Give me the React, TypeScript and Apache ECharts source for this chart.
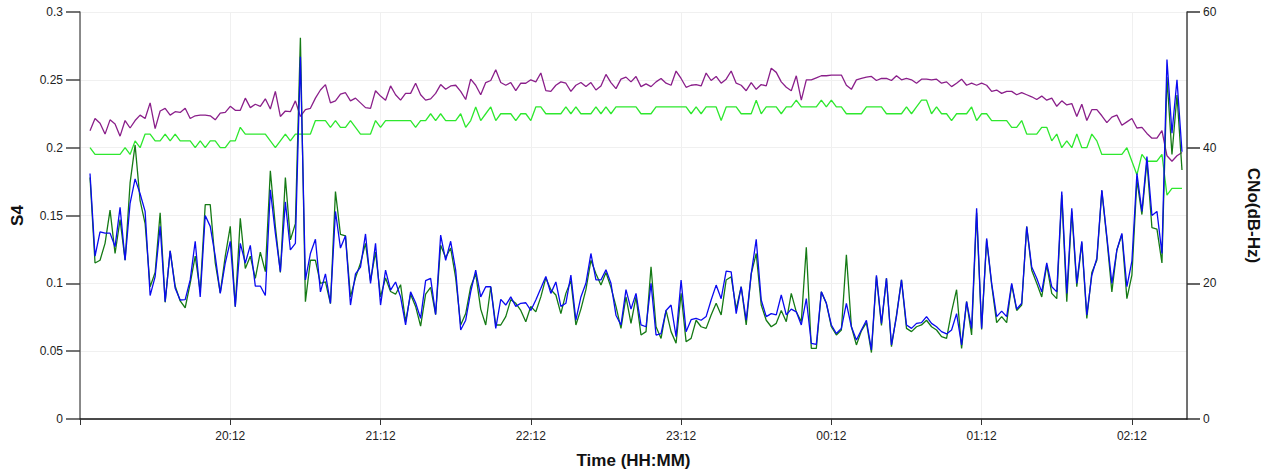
import React, { useEffect, useRef } from "react";
import * as echarts from "echarts";

// sampling: minutes after 19:12, one sample every 2 minutes starting 19:16
const startMinute = 4;
const stepMinutes = 2;
const xTickLabels = ["20:12", "21:12", "22:12", "23:12", "00:12", "01:12", "02:12"];
const s4TickLabels = ["0", "0.05", "0.1", "0.15", "0.2", "0.25", "0.3"];

// S4 (blue)
const s4Blue = [
  0.181, 0.120, 0.138, 0.137, 0.137, 0.127, 0.156, 0.117, 0.159, 0.177,
  0.166, 0.153, 0.091, 0.105, 0.142, 0.0865, 0.124, 0.0963, 0.0877, 0.088,
  0.1025, 0.131, 0.090, 0.150, 0.142, 0.120, 0.0926, 0.115, 0.131, 0.0828,
  0.1295, 0.115, 0.128, 0.098, 0.098, 0.091, 0.169, 0.137, 0.1086, 0.160,
  0.1246, 0.1295, 0.267, 0.1025, 0.122, 0.1325, 0.0937, 0.107, 0.0853, 0.153,
  0.126, 0.135, 0.084, 0.107, 0.112, 0.1364, 0.100, 0.1295, 0.084, 0.1097,
  0.095, 0.101, 0.090, 0.0693, 0.0937, 0.0857, 0.0742, 0.102, 0.1037, 0.077,
  0.1356, 0.117, 0.131, 0.1097, 0.0656, 0.0728, 0.0937, 0.1097, 0.090, 0.0975,
  0.0975, 0.0668, 0.0882, 0.084, 0.090, 0.083, 0.0853, 0.0857, 0.080, 0.0877,
  0.0963, 0.105, 0.0926, 0.101, 0.083, 0.0853, 0.106, 0.0728, 0.090, 0.100,
  0.122, 0.1025, 0.1025, 0.110, 0.100, 0.0765, 0.0693, 0.0953, 0.081, 0.0926,
  0.0693, 0.068, 0.100, 0.0619, 0.063, 0.080, 0.084, 0.0607, 0.1025, 0.0644,
  0.0732, 0.0742, 0.0728, 0.0755, 0.0877, 0.0987, 0.0887, 0.109, 0.1085, 0.0777,
  0.0975, 0.0728, 0.107, 0.1324, 0.0877, 0.0755, 0.0777, 0.0767, 0.0914, 0.0767,
  0.081, 0.079, 0.0693, 0.0887, 0.0558, 0.055, 0.0937, 0.0853, 0.0693, 0.063,
  0.0668, 0.0853, 0.068, 0.0582, 0.0656, 0.0728, 0.0509, 0.106, 0.0705, 0.1037,
  0.0546, 0.0755, 0.1025, 0.0693, 0.0668, 0.0705, 0.071, 0.0755, 0.0705, 0.068,
  0.0644, 0.0627, 0.0656, 0.0777, 0.0546, 0.0865, 0.0668, 0.1553, 0.0668, 0.1331,
  0.100, 0.0755, 0.0795, 0.0755, 0.100, 0.081, 0.0853, 0.1418, 0.112, 0.1037,
  0.0937, 0.115, 0.0975, 0.0937, 0.1676, 0.0926, 0.1553, 0.100, 0.131, 0.0767,
  0.106, 0.1185, 0.1688, 0.1344, 0.100, 0.1246, 0.1368, 0.0975, 0.1163, 0.181,
  0.153, 0.1934, 0.150, 0.153, 0.122, 0.265, 0.2106, 0.250, 0.197,
];

// S4 (green)
const s4Green = [
  0.178, 0.115, 0.117, 0.1295, 0.154, 0.122, 0.147, 0.117, 0.174, 0.202,
  0.161, 0.144, 0.0975, 0.108, 0.152, 0.086, 0.124, 0.098, 0.087, 0.082,
  0.100, 0.120, 0.094, 0.158, 0.158, 0.115, 0.093, 0.120, 0.142, 0.0828,
  0.148, 0.111, 0.120, 0.1037, 0.123, 0.1086, 0.183, 0.142, 0.108, 0.178,
  0.132, 0.144, 0.281, 0.0865, 0.117, 0.117, 0.100, 0.101, 0.085, 0.1676,
  0.136, 0.135, 0.090, 0.104, 0.115, 0.1295, 0.102, 0.123, 0.090, 0.104,
  0.094, 0.092, 0.099, 0.0717, 0.092, 0.083, 0.0685, 0.092, 0.097, 0.077,
  0.128, 0.119, 0.126, 0.104, 0.0693, 0.0777, 0.0975, 0.107, 0.081, 0.0693,
  0.0975, 0.0693, 0.0693, 0.0755, 0.088, 0.0853, 0.080, 0.0717, 0.083, 0.079,
  0.090, 0.104, 0.0953, 0.0914, 0.0777, 0.0926, 0.102, 0.0693, 0.081, 0.0953,
  0.117, 0.107, 0.0987, 0.108, 0.097, 0.083, 0.0668, 0.090, 0.0705, 0.090,
  0.0619, 0.0644, 0.1122, 0.068, 0.0594, 0.080, 0.0644, 0.0558, 0.0926, 0.057,
  0.0594, 0.0728, 0.068, 0.0668, 0.0767, 0.0853, 0.0767, 0.1025, 0.1049, 0.081,
  0.0975, 0.0693, 0.107, 0.122, 0.084, 0.0728, 0.068, 0.0705, 0.080, 0.0717,
  0.0926, 0.079, 0.0717, 0.1266, 0.052, 0.052, 0.0937, 0.0853, 0.068, 0.0619,
  0.0656, 0.121, 0.068, 0.0546, 0.065, 0.071, 0.049, 0.105, 0.069, 0.1037,
  0.0533, 0.0765, 0.1025, 0.0668, 0.0644, 0.068, 0.0693, 0.0728, 0.068, 0.0656,
  0.0607, 0.0594, 0.0792, 0.0953, 0.052, 0.0865, 0.0619, 0.152, 0.066, 0.132,
  0.099, 0.071, 0.0755, 0.071, 0.099, 0.080, 0.084, 0.1418, 0.1097, 0.100,
  0.090, 0.1135, 0.0926, 0.0887, 0.165, 0.0865, 0.153, 0.0975, 0.130, 0.0742,
  0.108, 0.117, 0.168, 0.133, 0.0937, 0.1246, 0.136, 0.0887, 0.106, 0.176,
  0.1507, 0.190, 0.141, 0.140, 0.115, 0.252, 0.195, 0.2388, 0.1835,
];

// C/N0 (purple), dB-Hz
const cn0Purple = [
  42.5, 44.3, 43.6, 42.0, 44.1, 43.5, 41.7, 44.0, 42.9, 44.0,
  44.8, 44.3, 46.6, 42.8, 45.4, 45.8, 44.8, 45.3, 45.2, 45.8,
  44.3, 44.7, 44.8, 44.8, 44.7, 44.1, 45.1, 45.2, 46.1, 45.5,
  45.5, 47.3, 45.9, 46.4, 46.1, 47.2, 45.7, 48.3, 44.6, 45.4,
  45.3, 46.9, 44.6, 45.6, 45.8, 47.3, 48.5, 49.3, 46.6, 46.9,
  47.9, 48.1, 46.9, 47.3, 46.6, 45.9, 45.8, 48.4, 47.6, 47.0,
  49.1, 47.8, 47.0, 48.0, 48.0, 49.5, 47.8, 47.0, 47.2, 48.0,
  49.3, 48.6, 49.1, 49.2, 48.3, 47.1, 50.1, 49.2, 47.8, 49.6,
  49.9, 51.5, 49.6, 49.2, 49.6, 48.4, 49.5, 49.5, 50.0, 49.7,
  51.0, 48.4, 48.3, 49.2, 49.7, 49.5, 48.3, 49.2, 49.6, 49.0,
  49.6, 48.5, 49.1, 50.8, 49.6, 48.7, 50.1, 50.4, 49.7, 50.5,
  49.0, 49.4, 49.0, 49.7, 50.2, 49.5, 49.2, 51.3, 50.2, 48.9,
  49.2, 49.3, 49.1, 51.0, 49.9, 50.5, 49.5, 50.1, 51.3, 49.5,
  49.2, 48.4, 49.6, 48.6, 49.3, 49.1, 51.7, 51.1, 49.7, 48.9,
  48.4, 50.6, 47.0, 50.0, 50.0, 50.3, 50.6, 50.6, 50.7, 50.7,
  50.7, 49.2, 48.6, 50.0, 50.2, 50.4, 50.5, 49.9, 50.2, 50.2,
  49.9, 50.6, 50.0, 50.2, 50.0, 49.5, 50.1, 50.1, 50.0, 50.1,
  49.5, 49.7, 49.0, 49.5, 50.1, 49.2, 49.5, 49.2, 49.5, 49.2,
  48.3, 48.5, 48.0, 48.3, 48.3, 47.8, 48.1, 47.8, 47.5, 47.1,
  47.6, 47.0, 47.3, 46.1, 46.9, 46.3, 46.5, 44.6, 46.4, 44.0,
  45.6, 45.6, 44.7, 43.7, 44.5, 44.8, 43.3, 43.8, 44.3, 42.9,
  43.0, 42.1, 41.4, 41.4, 42.5, 38.8, 38.0, 38.8, 39.3,
];

// C/N0 (bright green), dB-Hz
const cn0Green = [
  40, 39, 39, 39, 39, 39, 39, 40, 39, 41,
  40, 42, 42, 41, 41, 42, 41, 42, 41, 41,
  41, 40, 41, 40, 41, 41, 40, 40, 41, 41,
  43, 42, 42, 42, 42, 42, 41, 40, 41, 42,
  41, 42, 42, 42, 42, 44, 44, 44, 43, 44,
  43, 43, 44, 43, 42, 42, 42, 44, 43, 44,
  44, 44, 44, 44, 44, 43, 44, 44, 45, 44,
  45, 44, 44, 44, 45, 43, 44, 46, 44, 45,
  46, 44, 45, 45, 45, 44, 45, 45, 44, 46,
  46, 45, 45, 45, 45, 46, 45, 46, 45, 45,
  45, 46, 45, 46, 45, 46, 46, 46, 46, 46,
  45, 45, 45, 46, 46, 46, 46, 46, 46, 46,
  45, 46, 45, 46, 46, 46, 44, 46, 46, 46,
  45, 45, 45, 47, 45, 46, 46, 46, 45, 46,
  46, 47, 46, 46, 46, 46, 47, 46, 47, 46,
  46, 45, 45, 45, 45, 46, 46, 46, 46, 45,
  45, 45, 45, 46, 45, 46, 47, 47, 45, 46,
  45, 45, 44, 45, 45, 45, 46, 44, 45, 45,
  44, 44, 44, 44, 43, 43, 44, 42, 42, 42,
  43, 43, 41, 42, 40, 41, 40, 42, 40, 40,
  42, 41, 39, 39, 39, 39, 39, 40, 38, 36,
  39, 38, 38, 38, 39, 33, 34, 34, 34,
];

const FONT = "'Liberation Sans', Arial, sans-serif";

function pairs(values: number[]) {
  return values.map((v, i) => [startMinute + stepMinutes * i, v]);
}

export default function App() {
  const ref = useRef<HTMLDivElement>(null);

  useEffect(() => {
    if (!ref.current) return;
    const chart = echarts.init(ref.current, undefined, { renderer: "svg" });
    const option: any = {
      animation: false,
      backgroundColor: "#ffffff",
      grid: {
        left: 80,
        right: 78,
        top: 12,
        bottom: 54,
        containLabel: false,
        outerBoundsMode: "none",
      },
      xAxis: {
        type: "value",
        min: 0,
        max: 442,
        interval: 60,
        axisLine: { show: true, onZero: false, lineStyle: { color: "#111", width: 1.5 } },
        axisTick: { show: true, length: 6, lineStyle: { color: "#333", width: 1 } },
        axisLabel: {
          color: "#222",
          fontSize: 12,
          fontFamily: FONT,
          margin: 11,
          showMaxLabel: false,
          formatter: (v: number) => {
            if (v <= 0 || v % 60 !== 0) return "";
            return xTickLabels[v / 60 - 1] ?? "";
          },
        },
        splitLine: { show: true, lineStyle: { color: "#f0f0f0", width: 1 } },
        name: "Time (HH:MM)",
        nameLocation: "middle",
        nameGap: 33,
        nameTextStyle: { fontWeight: "bold", fontSize: 17, color: "#111", fontFamily: FONT },
      },
      yAxis: [
        {
          type: "value",
          position: "left",
          min: 0,
          max: 0.3,
          interval: 0.05,
          axisLine: { show: true, lineStyle: { color: "#666", width: 1.5 } },
          axisTick: { show: true, length: 14, lineStyle: { color: "#444", width: 1.5 } },
          axisLabel: {
            color: "#222",
            fontSize: 12,
            fontFamily: FONT,
            margin: 17,
            formatter: (v: number) => s4TickLabels[Math.round(v / 0.05)] ?? "",
          },
          splitLine: { show: true, lineStyle: { color: "#f0f0f0", width: 1 } },
          name: "S4",
          nameLocation: "middle",
          nameGap: 54,
          nameRotate: 90,
          nameTextStyle: { fontWeight: "bold", fontSize: 17, color: "#111", fontFamily: FONT },
        },
        {
          type: "value",
          position: "right",
          min: 0,
          max: 60,
          interval: 20,
          axisLine: { show: true, lineStyle: { color: "#444", width: 1.5 } },
          axisTick: { show: true, length: 13, lineStyle: { color: "#333", width: 1.5 } },
          axisLabel: { color: "#222", fontSize: 12, fontFamily: FONT, margin: 16 },
          splitLine: { show: false },
          name: "CNo(dB-Hz)",
          nameLocation: "middle",
          nameGap: 58,
          nameRotate: -90,
          nameTextStyle: { fontWeight: "bold", fontSize: 17, color: "#111", fontFamily: FONT },
        },
      ],
      series: [
        {
          name: "CN0 purple",
          type: "line",
          yAxisIndex: 1,
          data: pairs(cn0Purple),
          symbol: "none",
          lineStyle: { color: "#8a1f8a", width: 1.3 },
        },
        {
          name: "CN0 green",
          type: "line",
          yAxisIndex: 1,
          data: pairs(cn0Green),
          symbol: "none",
          lineStyle: { color: "#2ee82e", width: 1.3 },
        },
        {
          name: "S4 green",
          type: "line",
          yAxisIndex: 0,
          data: pairs(s4Green),
          symbol: "none",
          lineStyle: { color: "#157a15", width: 1.3 },
        },
        {
          name: "S4 blue",
          type: "line",
          yAxisIndex: 0,
          data: pairs(s4Blue),
          symbol: "none",
          lineStyle: { color: "#0a0af0", width: 1.3 },
        },
      ],
    };
    chart.setOption(option);
    return () => chart.dispose();
  }, []);

  return (
    <div
      ref={ref}
      style={{ position: "fixed", left: 0, top: 0, width: 1265, height: 473, background: "#fff" }}
    />
  );
}
